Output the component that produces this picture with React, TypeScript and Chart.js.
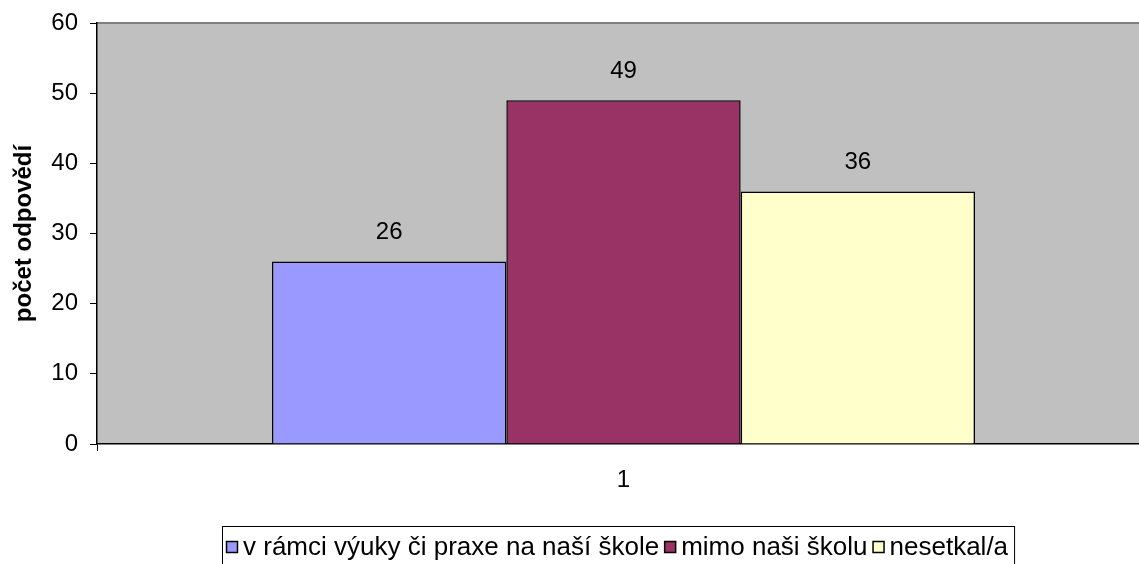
import React, { useEffect, useRef } from "react";
import { Chart, registerables } from "chart.js";

Chart.register(...registerables);

const categories = ["1"];
const seriesNames = ["v rámci výuky či praxe na naší škole", "mimo naši školu", "nesetkal/a"];
const seriesValues = [[26], [49], [36]];
const seriesColors = ["#9999FF", "#993366", "#FFFFCC"];
const yTicks = [0, 10, 20, 30, 40, 50, 60];
const yTitle = "počet odpovědí";

const FONT = "'Liberation Sans', Arial, sans-serif";
const FS = 24;
const LEGEND_FS = 26;

const bgPlugin = {
  id: "plotBg",
  beforeDraw(chart: any) {
    const { ctx, chartArea: a } = chart;
    ctx.save();
    ctx.fillStyle = "#C0C0C0";
    ctx.fillRect(a.left, a.top, a.right - a.left, a.bottom - a.top);
    ctx.strokeStyle = "#808080";
    ctx.lineWidth = 2;
    ctx.beginPath();
    ctx.moveTo(a.left, a.top);
    ctx.lineTo(a.right, a.top);
    ctx.stroke();
    ctx.restore();
  },
};

const labelPlugin = {
  id: "valueLabels",
  afterDatasetsDraw(chart: any) {
    const { ctx } = chart;
    ctx.save();
    ctx.font = `${FS}px ${FONT}`;
    ctx.fillStyle = "#000";
    ctx.textAlign = "center";
    ctx.textBaseline = "middle";
    chart.data.datasets.forEach((ds: any, i: number) => {
      const meta = chart.getDatasetMeta(i);
      meta.data.forEach((bar: any, j: number) => {
        ctx.fillText(String(ds.data[j]), bar.x, bar.y - 29);
      });
    });
    ctx.restore();
  },
};

const legendPlugin = {
  id: "boxLegend",
  afterDraw(chart: any) {
    const { ctx } = chart;
    ctx.save();
    ctx.font = `${LEGEND_FS}px ${FONT}`;
    ctx.textBaseline = "middle";
    ctx.textAlign = "left";
    let x = 226;
    const y = 548;
    chart.data.datasets.forEach((ds: any) => {
      ctx.fillStyle = ds.backgroundColor;
      ctx.fillRect(x + 0.5, y - 6.5, 11, 11);
      ctx.strokeStyle = "#000";
      ctx.lineWidth = 1.5;
      ctx.strokeRect(x + 0.5, y - 6.5, 11, 11);
      ctx.fillStyle = "#000";
      ctx.fillText(ds.label, x + 17, y);
      x = x + 17 + ctx.measureText(ds.label).width + 5;
    });
    ctx.strokeStyle = "#000";
    ctx.lineWidth = 1;
    ctx.strokeRect(222.5, 526.5, x + 1 - 222, 60);
    ctx.restore();
  },
};

export default function App() {
  const ref = useRef<HTMLCanvasElement>(null);
  useEffect(() => {
    document.body.style.margin = "0";
    document.body.style.overflow = "hidden";
    const chart = new Chart(ref.current!, {
      type: "bar",
      data: {
        labels: categories,
        datasets: seriesNames.map((name, i) => ({
          label: name,
          data: seriesValues[i],
          backgroundColor: seriesColors[i],
          borderColor: "#000",
          borderWidth: 1.5,
          categoryPercentage: 0.6676,
          barPercentage: 1,
        })),
      },
      options: {
        responsive: false,
        animation: false,
        layout: { padding: { top: 23, right: 0, left: 0, bottom: 0 } },
        plugins: { legend: { display: false }, tooltip: { enabled: false } },
        scales: {
          x: {
            grid: { display: true, drawOnChartArea: false, offset: true, tickLength: 7, color: "#000", lineWidth: 1 },
            border: { display: true, color: "#000", width: 1.5 },
            ticks: { font: { size: FS, family: FONT }, color: "#000", padding: 15 },
            afterFit(scale: any) {
              scale.height = 120;
            },
          },
          y: {
            min: 0,
            max: 60,
            afterBuildTicks(scale: any) {
              scale.ticks = yTicks.map((v) => ({ value: v }));
            },
            grid: { display: true, drawOnChartArea: false, tickLength: 7, color: "#000", lineWidth: 1 },
            border: { display: true, color: "#000", width: 1.5 },
            ticks: { font: { size: FS, family: FONT, lineHeight: 1 }, color: "#000", padding: 12 },
            title: {
              display: true,
              text: yTitle,
              font: { size: FS, family: FONT, weight: "bold" },
              color: "#000",
              padding: { top: 10, bottom: 0 },
            },
            afterFit(scale: any) {
              scale.width = 97;
              scale.paddingTop = 0;
            },
          },
        },
      },
      plugins: [bgPlugin, labelPlugin, legendPlugin],
    } as any);
    return () => chart.destroy();
  }, []);
  return (
    <div style={{ width: 1139, height: 564, overflow: "hidden" }}>
      <canvas ref={ref} width={1150} height={564} style={{ display: "block", width: 1150, height: 564 }} />
    </div>
  );
}
